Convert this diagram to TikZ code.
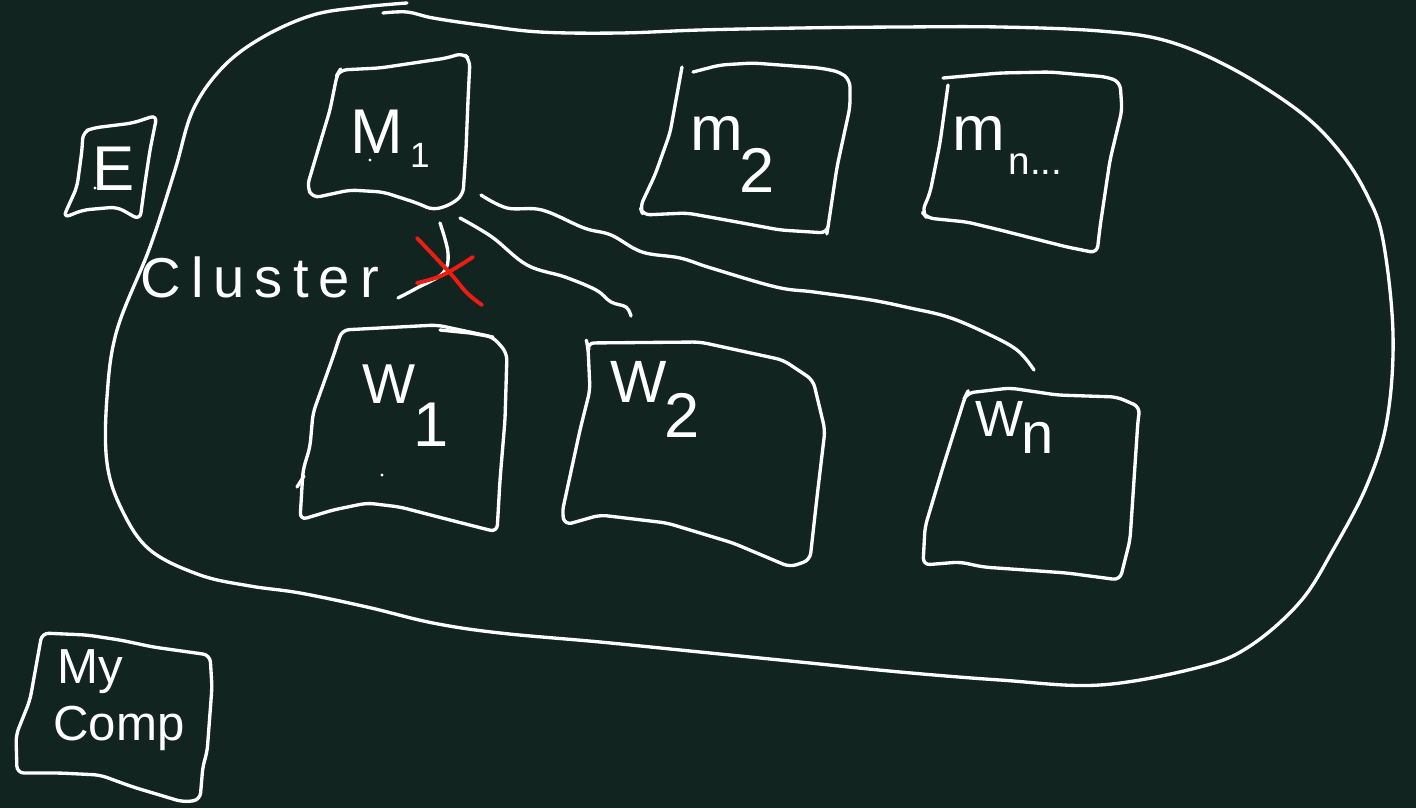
\documentclass[tikz,border=0pt]{standalone}
\usepackage{fontspec}
\setmainfont{Liberation Sans}
\definecolor{board}{HTML}{12241F}
\definecolor{chalkred}{HTML}{EE1C12}
\tikzset{
  chalk/.style={draw=white, line width=1.9pt, line cap=round, line join=round},
  box/.style={chalk, rounded corners=4pt},
  redx/.style={draw=chalkred, line width=2.2pt, line cap=round},
  hand/.style={text=white, inner sep=0pt, anchor=base west},
  speck/.style={fill=white, draw=none},
}
\newcommand\fs[1]{\fontsize{#1}{#1}\selectfont}
\begin{document}
\begin{tikzpicture}[x=0.02cm,y=-0.02cm]
\fill[board] (0,0) rectangle (1416,808);
\useasboundingbox (0,0) rectangle (1416,808);

% cluster outline
\coordinate (clA) at (383,13);
\coordinate (clB) at (407,3);
\draw[chalk] plot[smooth, tension=0.6] coordinates {(clA) (407,12) (433,18) (480,25) (540,32) (620,33) (700,30) (800,28) (900,27) (1000,27) (1100,31) (1167,41) (1233,69) (1300,112) (1340,152) (1367,195) (1383,240) (1393,334) (1387,420) (1367,485) (1333,550) (1300,602) (1250,646) (1200,667) (1100,685) (1000,680) (900,672) (800,662) (700,652) (600,642) (500,633) (433,623) (367,607) (300,593) (250,586) (200,575) (150,550) (122,510) (107,463) (107,397) (117,330) (150,247) (175,170) (193,110) (223,67) (263,37) (313,15) (363,7) (clB)};

% E box
\draw[box] (83,132) -- (93,128) -- (133,123) -- (157,115) -- (150,150) -- (145,183) -- (140,220) -- (117,207) -- (83,210) -- (63,218) -- (77,187) -- (82,150) -- cycle;
\node[hand, font=\fs{36}] (e) at (92,190) {E};
\fill[speck] (95,188) circle (1.6);

% M1
\draw[box] (337,75) -- (330,110) -- (318,150) -- (307,187) -- (313,198) -- (350,190) -- (383,192) -- (417,203) -- (433,210) -- (450,205) -- (463,195) -- (466,150) -- (468,100) -- (470,60) -- (463,53) -- (447,58) -- (380,68) -- (340,70) -- cycle;
\node[hand, font=\fs{36}] (m1) at (350,153) {M\hspace{4pt}\raisebox{-8.5pt}{\fs{20}1}};
\fill[speck] (370,160) circle (1.6);

% M2
\draw[box] (693,72) -- (720,65) -- (753,63) -- (820,68) -- (840,72) -- (850,80) -- (850,107) -- (837,167) -- (828,227) -- (827,233) -- (780,230) -- (737,222) -- (687,213) -- (643,215) -- (640,207) -- (655,175) -- (670,133) -- (682,67);
\node[hand, font=\fs{36}] (m2) at (690,150) {m\hspace{-2pt}\raisebox{-24pt}{2}};

% Mn
\draw[box] (943,78) -- (1000,73) -- (1050,72) -- (1107,77) -- (1120,82) -- (1122,110) -- (1110,160) -- (1100,227) -- (1097,253) -- (1067,247) -- (1000,230) -- (967,222) -- (927,218) -- (922,212) -- (930,193) -- (940,143) -- (948,85);
\node[hand, font=\fs{36}] (mn) at (952,150) {m\hspace{2pt}\raisebox{-14pt}{\fs{22}n...}};

% W1
\draw[box] (342,330) -- (437,325) -- (493,337) -- (507,353) -- (505,420) -- (500,480) -- (497,532) -- (450,520) -- (400,507) -- (367,503) -- (333,510) -- (300,520) -- (303,470) -- (310,447) -- (313,413) -- (333,357) -- cycle;
\draw[chalk] (440,330) -- (470,333) -- (493,337);
\draw[chalk] (297,487) -- (304,476);
\node[hand, font=\fs{32}] (w1) at (362,403) {W\hspace{-1pt}\raisebox{-25pt}{\fs{36}1}};
\fill[speck] (382,475) circle (1.6);

% W2
\draw[box] (587,343) -- (700,342) -- (783,360) -- (813,380) -- (825,430) -- (817,497) -- (810,560) -- (790,567) -- (733,543) -- (667,523) -- (600,515) -- (565,525) -- (562,513) -- (580,430) -- (590,390) -- (588,347) -- cycle;
\node[hand, font=\fs{34}] (w2) at (610,402) {W\hspace{-1pt}\raisebox{-20pt}{\fs{36}2}};

% Wn
\draw[box] (967,393) -- (1010,388) -- (1057,395) -- (1117,397) -- (1140,407) -- (1138,420) -- (1130,540) -- (1120,580) -- (1067,573) -- (983,567) -- (960,562) -- (923,565) -- (925,527) -- (943,467) -- (965,397) -- cycle;
\node[hand, font=\fs{29}] (wn) at (975,436) {W\hspace{-1pt}\raisebox{-10pt}{\fs{33}n}};

% My Comp
\draw[box] (42,633) -- (87,635) -- (120,640) -- (153,647) -- (210,655) -- (212,687) -- (207,753) -- (203,765) -- (200,800) -- (183,802) -- (133,787) -- (100,775) -- (60,773) -- (17,773) -- (16,735) -- (30,700) -- cycle;
\node[hand, font=\fs{28}] (myl) at (57,683) {My};
\node[hand, font=\fs{28}] (comp) at (53,740) {Comp};

% cluster label
\node[hand, font=\fs{32}\addfontfeature{LetterSpace=18}] (cl) at (140,297) {Cluster};

% connectors
\coordinate (m1r) at (481,195);
\coordinate (wntop) at (1034,370);
\coordinate (m1b) at (460,218);
\coordinate (w2top) at (631,316);
\coordinate (m1h) at (440,223);
\coordinate (clhook) at (398,298);
\draw[chalk] plot[smooth, tension=0.6] coordinates {(m1r) (507,208) (542,210) (584,228) (611,235) (642,252) (680,258) (711,268) (776,287) (814,292) (871,300) (910,308) (948,317) (986,333) (1017,350) (wntop)};
\draw[chalk] plot[smooth, tension=0.6] coordinates {(m1b) (492,237) (527,265) (565,277) (596,290) (611,302) (626,307) (w2top)};
\draw[chalk] plot[smooth, tension=0.6] coordinates {(m1h) (448,253) (443,273) (417,288) (clhook)};

% red cross
\coordinate (xa) at (417,238);
\coordinate (xb) at (482,305);
\coordinate (xc) at (417,283);
\coordinate (xd) at (473,257);
\draw[redx] plot[smooth, tension=0.6] coordinates {(xa) (450,273) (467,293) (xb)};
\draw[redx] plot[smooth, tension=0.6] coordinates {(xc) (443,275) (xd)};
\end{tikzpicture}
\end{document}
